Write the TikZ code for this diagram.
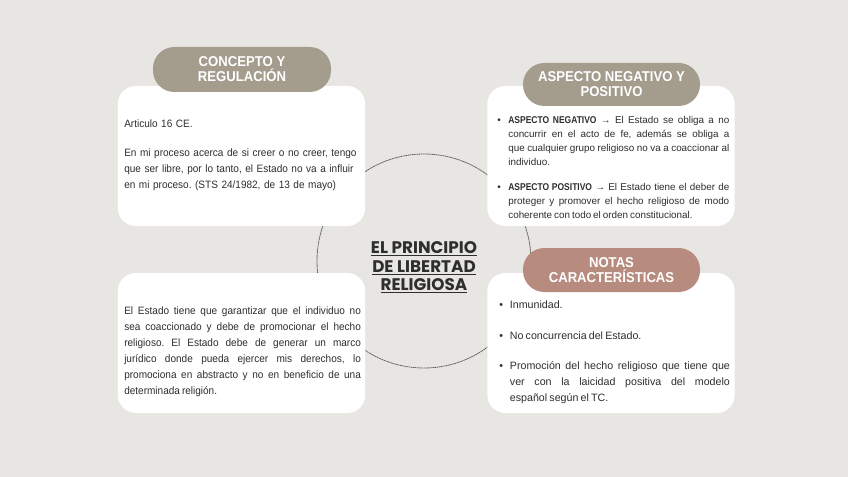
\documentclass[tikz,border=0pt]{standalone}
\usepackage{fontspec}
\setmainfont{Liberation Sans}
\newfontfamily\bodyfont{Liberation Sans}[WordSpace={0.72,1,1}, BoldFeatures={FakeStretch=0.86}]
\newfontfamily\narrowfont{Liberation Sans}[FakeStretch=0.94, WordSpace={0.72,1,1}]
\newfontfamily\pillfont{Liberation Sans}[FakeStretch=0.92]
\newfontfamily\titlefont{Poppins}
\definecolor{bgc}{HTML}{E8E6E3}
\definecolor{taupe}{HTML}{A49D8E}
\definecolor{rose}{HTML}{B78C7F}
\definecolor{txt}{HTML}{2E2E2E}
\definecolor{ring}{HTML}{5E5E5E}
\newcommand\nohy{\hyphenpenalty=10000\exhyphenpenalty=10000\frenchspacing\relax}
\tikzset{
  card/.style={fill=white, rounded corners=13.5pt, minimum width=185.5pt, minimum height=105pt, inner sep=0pt},
  pill/.style={rounded corners=16pt, inner sep=0pt, text=white, align=center,
     font=\pillfont\bfseries\fontsize{10.7pt}{11.3pt}\selectfont},
  bodytext/.style={inner sep=0pt, text=txt, font=\narrowfont\fontsize{8pt}{12pt}\selectfont\nohy},
  smalltext/.style={inner sep=0pt, text=txt, font=\bodyfont\fontsize{7.4pt}{10.5pt}\selectfont\nohy},
}
\newcommand\bitem[2]{\noindent\hangindent=#1\hangafter=1\makebox[#1][l]{\textbullet}#2\par}
\begin{document}
\begin{tikzpicture}[x=0.75pt,y=-0.75pt]
\fill[bgc] (0,0) rectangle (848,477);
\useasboundingbox (0,0) rectangle (848,477);
% ring
\node[circle, draw=ring, line width=0.6pt, dash pattern=on 1pt off 0.4pt, minimum size=160.5pt, inner sep=0pt] (ring) at (424,261) {};
% cards
\node[card] (tl) at (241.5,156) {};
\node[card] (tr) at (611,156) {};
\node[card] (bl) at (241.5,343) {};
\node[card] (br) at (611,343) {};
% pills
\node[pill, fill=taupe, minimum width=133.5pt, minimum height=33.75pt] (p1) at (242,69.5) {CONCEPTO Y\\REGULACIÓN};
\node[pill, fill=taupe, minimum width=132.75pt, minimum height=32.25pt] (p2) at (611.5,84.5) {ASPECTO NEGATIVO Y\\POSITIVO};
\node[pill, fill=rose, minimum width=132.75pt, minimum height=33pt] (p3) at (611.5,270) {NOTAS\\CARACTERÍSTICAS};
% title
\node[inner sep=0pt, text=txt, align=center, font=\titlefont\bfseries\fontsize{12.6pt}{13.8pt}\selectfont] (title) at (424,267.5)
  {\underline{EL PRINCIPIO}\\\underline{DE LIBERTAD}\\\underline{RELIGIOSA}};
% texts
\node[bodytext, anchor=north west, text width=185pt, align=left] (t1) at (124,120)
  {Articulo 16 CE.\par\vspace{9.5pt}En mi proceso acerca de si creer o no creer, tengo\\que ser libre, por lo tanto, el Estado no va a influir\\en mi proceso. (STS 24/1982, de 13 de mayo)};
\node[smalltext, anchor=north west, text width=174pt, align=justify] (t2) at (497,116.5)
  {\bitem{8.3pt}{\textbf{ASPECTO NEGATIVO} → El Estado se obliga a no concurrir en el acto de fe, además se obliga a que cualquier grupo religioso no va a coaccionar al individuo.}\vspace{8pt}
   \bitem{8.3pt}{\textbf{ASPECTO POSITIVO} → El Estado tiene el deber de proteger y promover el hecho religioso de modo coherente con todo el orden constitucional.}};
\node[bodytext, anchor=north west, text width=177.5pt, align=justify] (t3) at (124,307)
  {El Estado tiene que garantizar que el individuo no\linebreak sea coaccionado y debe de promocionar el hecho\linebreak religioso. El Estado debe de generar un marco\linebreak jurídico donde pueda ejercer mis derechos, lo\linebreak promociona en abstracto y no en beneficio de una\linebreak determinada religión.};
\node[bodytext, anchor=north west, text width=173pt, align=justify, font=\bodyfont\fontsize{8pt}{11.8pt}\selectfont\nohy] (t4) at (499,301)
  {\bitem{8pt}{Inmunidad.}\vspace{11pt}
   \bitem{8pt}{No concurrencia del Estado.}\vspace{11pt}
   \bitem{8pt}{Promoción del hecho religioso que tiene que\linebreak ver con la laicidad positiva del modelo\linebreak español según el TC.}};
\end{tikzpicture}
\end{document}
